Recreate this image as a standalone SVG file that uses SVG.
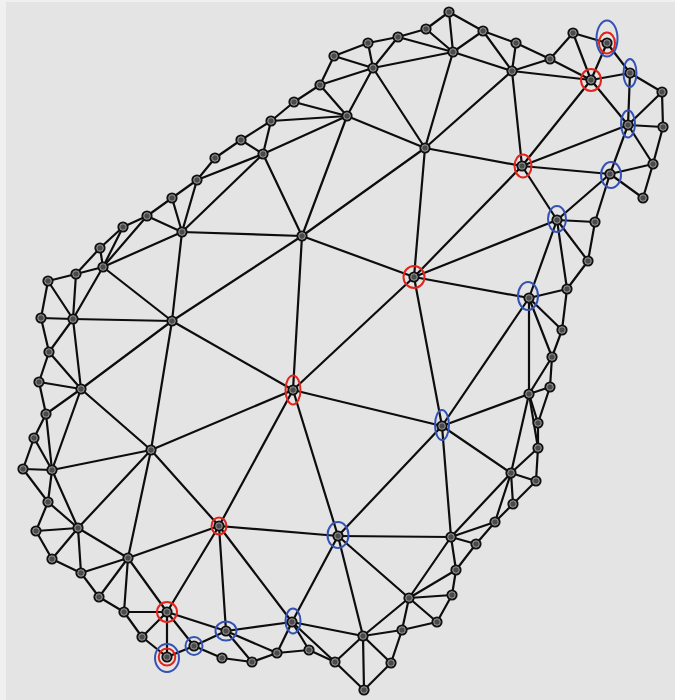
<svg xmlns="http://www.w3.org/2000/svg" xmlns:xlink="http://www.w3.org/1999/xlink" width="675" height="700" viewBox="0 0 675 700">
<style>
.e line{stroke:#0d0d0d;stroke-width:2.2;stroke-linecap:round}
.rd{fill:none;stroke:#e3241b;stroke-width:2}
.bl{fill:none;stroke:#3452b4;stroke-width:2}
</style>
<defs>
<g id="nd"><circle r="5.6" fill="#111"/><circle r="3.3" fill="#4a4a4a" stroke="#b4b4b4" stroke-width="0.8"/></g>
</defs>
<rect width="675" height="700" fill="#f0f0f0"/>
<rect x="6" y="2" width="669" height="698" fill="#e4e4e4"/>
<g class="e" id="edges">
<line x1="449" y1="12" x2="426" y2="29"/><line x1="449" y1="12" x2="483" y2="31"/><line x1="449" y1="12" x2="453" y2="52"/>
<line x1="426" y1="29" x2="398" y2="37"/><line x1="426" y1="29" x2="453" y2="52"/>
<line x1="398" y1="37" x2="368" y2="43"/><line x1="398" y1="37" x2="453" y2="52"/><line x1="398" y1="37" x2="373" y2="68"/>
<line x1="368" y1="43" x2="334" y2="56"/><line x1="368" y1="43" x2="373" y2="68"/>
<line x1="334" y1="56" x2="373" y2="68"/><line x1="334" y1="56" x2="320" y2="85"/>
<line x1="373" y1="68" x2="320" y2="85"/><line x1="373" y1="68" x2="347" y2="116"/><line x1="373" y1="68" x2="425" y2="148"/><line x1="373" y1="68" x2="453" y2="52"/>
<line x1="320" y1="85" x2="294" y2="102"/><line x1="320" y1="85" x2="347" y2="116"/>
<line x1="294" y1="102" x2="347" y2="116"/><line x1="294" y1="102" x2="271" y2="121"/>
<line x1="347" y1="116" x2="271" y2="121"/><line x1="347" y1="116" x2="263" y2="154"/><line x1="347" y1="116" x2="425" y2="148"/><line x1="347" y1="116" x2="302" y2="236"/>
<line x1="271" y1="121" x2="241" y2="140"/><line x1="271" y1="121" x2="263" y2="154"/>
<line x1="241" y1="140" x2="263" y2="154"/><line x1="241" y1="140" x2="215" y2="158"/>
<line x1="263" y1="154" x2="197" y2="180"/><line x1="263" y1="154" x2="182" y2="232"/><line x1="263" y1="154" x2="302" y2="236"/>
<line x1="425" y1="148" x2="302" y2="236"/><line x1="425" y1="148" x2="453" y2="52"/><line x1="425" y1="148" x2="512" y2="71"/><line x1="425" y1="148" x2="522" y2="166"/><line x1="425" y1="148" x2="414" y2="277"/>
<line x1="215" y1="158" x2="197" y2="180"/>
<line x1="197" y1="180" x2="172" y2="198"/><line x1="197" y1="180" x2="182" y2="232"/>
<line x1="172" y1="198" x2="147" y2="216"/><line x1="172" y1="198" x2="182" y2="232"/>
<line x1="147" y1="216" x2="123" y2="227"/><line x1="147" y1="216" x2="182" y2="232"/><line x1="147" y1="216" x2="103" y2="267"/>
<line x1="123" y1="227" x2="100" y2="248"/><line x1="123" y1="227" x2="103" y2="267"/>
<line x1="182" y1="232" x2="302" y2="236"/><line x1="182" y1="232" x2="103" y2="267"/><line x1="182" y1="232" x2="172" y2="321"/>
<line x1="302" y1="236" x2="172" y2="321"/><line x1="302" y1="236" x2="293" y2="390"/><line x1="302" y1="236" x2="414" y2="277"/>
<line x1="483" y1="31" x2="516" y2="43"/><line x1="483" y1="31" x2="453" y2="52"/><line x1="483" y1="31" x2="512" y2="71"/>
<line x1="516" y1="43" x2="512" y2="71"/><line x1="516" y1="43" x2="550" y2="59"/>
<line x1="453" y1="52" x2="512" y2="71"/>
<line x1="512" y1="71" x2="550" y2="59"/><line x1="512" y1="71" x2="591" y2="80"/><line x1="512" y1="71" x2="522" y2="166"/>
<line x1="550" y1="59" x2="573" y2="33"/><line x1="550" y1="59" x2="591" y2="80"/>
<line x1="573" y1="33" x2="607" y2="43"/><line x1="573" y1="33" x2="591" y2="80"/>
<line x1="607" y1="43" x2="591" y2="80"/><line x1="607" y1="43" x2="630" y2="73"/>
<line x1="591" y1="80" x2="630" y2="73"/><line x1="591" y1="80" x2="628" y2="125"/><line x1="591" y1="80" x2="522" y2="166"/>
<line x1="630" y1="73" x2="662" y2="92"/><line x1="630" y1="73" x2="628" y2="125"/>
<line x1="662" y1="92" x2="628" y2="125"/><line x1="662" y1="92" x2="663" y2="127"/>
<line x1="628" y1="125" x2="663" y2="127"/><line x1="628" y1="125" x2="653" y2="164"/><line x1="628" y1="125" x2="610" y2="174"/><line x1="628" y1="125" x2="522" y2="166"/>
<line x1="663" y1="127" x2="653" y2="164"/>
<line x1="653" y1="164" x2="610" y2="174"/><line x1="653" y1="164" x2="643" y2="198"/>
<line x1="610" y1="174" x2="643" y2="198"/><line x1="610" y1="174" x2="522" y2="166"/><line x1="610" y1="174" x2="557" y2="220"/><line x1="610" y1="174" x2="595" y2="222"/>
<line x1="522" y1="166" x2="557" y2="220"/><line x1="522" y1="166" x2="414" y2="277"/>
<line x1="557" y1="220" x2="595" y2="222"/><line x1="557" y1="220" x2="588" y2="261"/><line x1="557" y1="220" x2="414" y2="277"/><line x1="557" y1="220" x2="529" y2="298"/><line x1="557" y1="220" x2="567" y2="289"/>
<line x1="595" y1="222" x2="588" y2="261"/>
<line x1="588" y1="261" x2="567" y2="289"/>
<line x1="414" y1="277" x2="529" y2="298"/><line x1="414" y1="277" x2="442" y2="426"/><line x1="414" y1="277" x2="293" y2="390"/>
<line x1="529" y1="298" x2="567" y2="289"/><line x1="529" y1="298" x2="562" y2="330"/><line x1="529" y1="298" x2="552" y2="357"/><line x1="529" y1="298" x2="529" y2="394"/><line x1="529" y1="298" x2="442" y2="426"/>
<line x1="567" y1="289" x2="562" y2="330"/>
<line x1="562" y1="330" x2="552" y2="357"/>
<line x1="552" y1="357" x2="550" y2="387"/><line x1="552" y1="357" x2="529" y2="394"/>
<line x1="550" y1="387" x2="529" y2="394"/><line x1="550" y1="387" x2="538" y2="423"/>
<line x1="529" y1="394" x2="538" y2="423"/><line x1="529" y1="394" x2="538" y2="448"/><line x1="529" y1="394" x2="442" y2="426"/><line x1="529" y1="394" x2="511" y2="473"/>
<line x1="538" y1="423" x2="538" y2="448"/>
<line x1="538" y1="448" x2="511" y2="473"/><line x1="538" y1="448" x2="536" y2="481"/>
<line x1="442" y1="426" x2="293" y2="390"/><line x1="442" y1="426" x2="511" y2="473"/><line x1="442" y1="426" x2="451" y2="537"/><line x1="442" y1="426" x2="338" y2="536"/>
<line x1="293" y1="390" x2="172" y2="321"/><line x1="293" y1="390" x2="151" y2="450"/><line x1="293" y1="390" x2="219" y2="526"/><line x1="293" y1="390" x2="338" y2="536"/>
<line x1="511" y1="473" x2="536" y2="481"/><line x1="511" y1="473" x2="513" y2="504"/><line x1="511" y1="473" x2="495" y2="522"/><line x1="511" y1="473" x2="451" y2="537"/>
<line x1="536" y1="481" x2="513" y2="504"/>
<line x1="513" y1="504" x2="495" y2="522"/>
<line x1="495" y1="522" x2="451" y2="537"/><line x1="495" y1="522" x2="476" y2="544"/>
<line x1="451" y1="537" x2="476" y2="544"/><line x1="451" y1="537" x2="456" y2="570"/><line x1="451" y1="537" x2="338" y2="536"/><line x1="451" y1="537" x2="409" y2="598"/>
<line x1="476" y1="544" x2="456" y2="570"/>
<line x1="456" y1="570" x2="452" y2="595"/><line x1="456" y1="570" x2="409" y2="598"/>
<line x1="452" y1="595" x2="409" y2="598"/><line x1="452" y1="595" x2="437" y2="622"/>
<line x1="338" y1="536" x2="219" y2="526"/><line x1="338" y1="536" x2="292" y2="622"/><line x1="338" y1="536" x2="363" y2="636"/><line x1="338" y1="536" x2="409" y2="598"/>
<line x1="219" y1="526" x2="292" y2="622"/><line x1="219" y1="526" x2="167" y2="612"/><line x1="219" y1="526" x2="151" y2="450"/><line x1="219" y1="526" x2="128" y2="558"/><line x1="219" y1="526" x2="226" y2="631"/>
<line x1="409" y1="598" x2="437" y2="622"/><line x1="409" y1="598" x2="402" y2="630"/><line x1="409" y1="598" x2="363" y2="636"/>
<line x1="437" y1="622" x2="402" y2="630"/>
<line x1="402" y1="630" x2="363" y2="636"/><line x1="402" y1="630" x2="391" y2="663"/>
<line x1="363" y1="636" x2="391" y2="663"/><line x1="363" y1="636" x2="364" y2="690"/><line x1="363" y1="636" x2="335" y2="662"/><line x1="363" y1="636" x2="292" y2="622"/>
<line x1="391" y1="663" x2="364" y2="690"/>
<line x1="364" y1="690" x2="335" y2="662"/>
<line x1="335" y1="662" x2="309" y2="650"/><line x1="335" y1="662" x2="292" y2="622"/>
<line x1="309" y1="650" x2="292" y2="622"/><line x1="309" y1="650" x2="277" y2="653"/>
<line x1="292" y1="622" x2="277" y2="653"/><line x1="292" y1="622" x2="226" y2="631"/>
<line x1="277" y1="653" x2="252" y2="662"/><line x1="277" y1="653" x2="226" y2="631"/>
<line x1="252" y1="662" x2="226" y2="631"/><line x1="252" y1="662" x2="222" y2="658"/>
<line x1="226" y1="631" x2="194" y2="646"/><line x1="226" y1="631" x2="167" y2="612"/>
<line x1="222" y1="658" x2="194" y2="646"/>
<line x1="194" y1="646" x2="167" y2="657"/><line x1="194" y1="646" x2="167" y2="612"/>
<line x1="167" y1="657" x2="167" y2="612"/><line x1="167" y1="657" x2="142" y2="637"/>
<line x1="167" y1="612" x2="142" y2="637"/><line x1="167" y1="612" x2="124" y2="612"/><line x1="167" y1="612" x2="128" y2="558"/>
<line x1="142" y1="637" x2="124" y2="612"/>
<line x1="124" y1="612" x2="99" y2="597"/><line x1="124" y1="612" x2="128" y2="558"/>
<line x1="99" y1="597" x2="128" y2="558"/><line x1="99" y1="597" x2="81" y2="573"/>
<line x1="128" y1="558" x2="81" y2="573"/><line x1="128" y1="558" x2="78" y2="528"/><line x1="128" y1="558" x2="151" y2="450"/>
<line x1="81" y1="573" x2="52" y2="559"/><line x1="81" y1="573" x2="78" y2="528"/>
<line x1="52" y1="559" x2="78" y2="528"/><line x1="52" y1="559" x2="36" y2="531"/>
<line x1="78" y1="528" x2="36" y2="531"/><line x1="78" y1="528" x2="48" y2="502"/><line x1="78" y1="528" x2="52" y2="470"/><line x1="78" y1="528" x2="151" y2="450"/>
<line x1="36" y1="531" x2="48" y2="502"/>
<line x1="48" y1="502" x2="52" y2="470"/><line x1="48" y1="502" x2="23" y2="469"/>
<line x1="52" y1="470" x2="23" y2="469"/><line x1="52" y1="470" x2="151" y2="450"/><line x1="52" y1="470" x2="34" y2="438"/><line x1="52" y1="470" x2="46" y2="414"/><line x1="52" y1="470" x2="81" y2="389"/>
<line x1="23" y1="469" x2="34" y2="438"/>
<line x1="151" y1="450" x2="81" y2="389"/><line x1="151" y1="450" x2="172" y2="321"/>
<line x1="34" y1="438" x2="46" y2="414"/>
<line x1="46" y1="414" x2="81" y2="389"/><line x1="46" y1="414" x2="39" y2="382"/>
<line x1="81" y1="389" x2="39" y2="382"/><line x1="81" y1="389" x2="49" y2="352"/><line x1="81" y1="389" x2="73" y2="319"/><line x1="81" y1="389" x2="172" y2="321"/>
<line x1="39" y1="382" x2="49" y2="352"/>
<line x1="49" y1="352" x2="41" y2="318"/><line x1="49" y1="352" x2="73" y2="319"/>
<line x1="41" y1="318" x2="73" y2="319"/><line x1="41" y1="318" x2="48" y2="281"/>
<line x1="73" y1="319" x2="172" y2="321"/><line x1="73" y1="319" x2="48" y2="281"/><line x1="73" y1="319" x2="76" y2="274"/><line x1="73" y1="319" x2="103" y2="267"/>
<line x1="172" y1="321" x2="103" y2="267"/>
<line x1="48" y1="281" x2="76" y2="274"/>
<line x1="76" y1="274" x2="103" y2="267"/><line x1="76" y1="274" x2="100" y2="248"/>
<line x1="103" y1="267" x2="100" y2="248"/>
</g>
<g id="nodes">
<g id="n1"><use xlink:href="#nd" x="449" y="12"/></g>
<g id="n2"><use xlink:href="#nd" x="426" y="29"/></g>
<g id="n3"><use xlink:href="#nd" x="398" y="37"/></g>
<g id="n4"><use xlink:href="#nd" x="368" y="43"/></g>
<g id="n5"><use xlink:href="#nd" x="334" y="56"/></g>
<g id="n6"><use xlink:href="#nd" x="373" y="68"/></g>
<g id="n7"><use xlink:href="#nd" x="320" y="85"/></g>
<g id="n8"><use xlink:href="#nd" x="294" y="102"/></g>
<g id="n9"><use xlink:href="#nd" x="347" y="116"/></g>
<g id="n10"><use xlink:href="#nd" x="271" y="121"/></g>
<g id="n11"><use xlink:href="#nd" x="241" y="140"/></g>
<g id="n12"><use xlink:href="#nd" x="263" y="154"/></g>
<g id="n13"><use xlink:href="#nd" x="425" y="148"/></g>
<g id="n14"><use xlink:href="#nd" x="215" y="158"/></g>
<g id="n15"><use xlink:href="#nd" x="197" y="180"/></g>
<g id="n16"><use xlink:href="#nd" x="172" y="198"/></g>
<g id="n17"><use xlink:href="#nd" x="147" y="216"/></g>
<g id="n18"><use xlink:href="#nd" x="123" y="227"/></g>
<g id="n19"><use xlink:href="#nd" x="182" y="232"/></g>
<g id="n20"><use xlink:href="#nd" x="302" y="236"/></g>
<g id="n21"><use xlink:href="#nd" x="483" y="31"/></g>
<g id="n22"><use xlink:href="#nd" x="516" y="43"/></g>
<g id="n23"><use xlink:href="#nd" x="453" y="52"/></g>
<g id="n24"><use xlink:href="#nd" x="512" y="71"/></g>
<g id="n25"><use xlink:href="#nd" x="550" y="59"/></g>
<g id="n26"><use xlink:href="#nd" x="573" y="33"/></g>
<g id="n27"><use xlink:href="#nd" x="607" y="43"/><ellipse class="rd" cx="607" cy="43" rx="8" ry="10.5"/><ellipse class="bl" cx="607" cy="38.5" rx="10.5" ry="18"/></g>
<g id="n28"><use xlink:href="#nd" x="591" y="80"/><ellipse class="rd" cx="591" cy="80" rx="10" ry="11"/></g>
<g id="n29"><use xlink:href="#nd" x="630" y="73"/><ellipse class="bl" cx="630" cy="73" rx="6.5" ry="14"/></g>
<g id="n30"><use xlink:href="#nd" x="662" y="92"/></g>
<g id="n31"><use xlink:href="#nd" x="628" y="125"/><ellipse class="bl" cx="628" cy="124" rx="7" ry="13.5"/></g>
<g id="n32"><use xlink:href="#nd" x="663" y="127"/></g>
<g id="n33"><use xlink:href="#nd" x="653" y="164"/></g>
<g id="n34"><use xlink:href="#nd" x="610" y="174"/><ellipse class="bl" cx="611" cy="175" rx="10" ry="13"/></g>
<g id="n35"><use xlink:href="#nd" x="643" y="198"/></g>
<g id="n36"><use xlink:href="#nd" x="522" y="166"/><ellipse class="rd" cx="523" cy="166" rx="8.5" ry="11.5"/></g>
<g id="n37"><use xlink:href="#nd" x="557" y="220"/><ellipse class="bl" cx="557" cy="219" rx="9" ry="13"/></g>
<g id="n38"><use xlink:href="#nd" x="595" y="222"/></g>
<g id="n39"><use xlink:href="#nd" x="588" y="261"/></g>
<g id="n40"><use xlink:href="#nd" x="414" y="277"/><ellipse class="rd" cx="414" cy="277" rx="10.5" ry="11"/></g>
<g id="n41"><use xlink:href="#nd" x="529" y="298"/><ellipse class="bl" cx="528" cy="296" rx="10" ry="14"/></g>
<g id="n42"><use xlink:href="#nd" x="567" y="289"/></g>
<g id="n43"><use xlink:href="#nd" x="562" y="330"/></g>
<g id="n44"><use xlink:href="#nd" x="552" y="357"/></g>
<g id="n45"><use xlink:href="#nd" x="550" y="387"/></g>
<g id="n46"><use xlink:href="#nd" x="529" y="394"/></g>
<g id="n47"><use xlink:href="#nd" x="538" y="423"/></g>
<g id="n48"><use xlink:href="#nd" x="538" y="448"/></g>
<g id="n49"><use xlink:href="#nd" x="442" y="426"/><ellipse class="bl" cx="442" cy="425" rx="7" ry="15"/></g>
<g id="n50"><use xlink:href="#nd" x="293" y="390"/><ellipse class="rd" cx="293" cy="390" rx="7.5" ry="14.5"/></g>
<g id="n51"><use xlink:href="#nd" x="511" y="473"/></g>
<g id="n52"><use xlink:href="#nd" x="536" y="481"/></g>
<g id="n53"><use xlink:href="#nd" x="513" y="504"/></g>
<g id="n54"><use xlink:href="#nd" x="495" y="522"/></g>
<g id="n55"><use xlink:href="#nd" x="451" y="537"/></g>
<g id="n56"><use xlink:href="#nd" x="476" y="544"/></g>
<g id="n57"><use xlink:href="#nd" x="456" y="570"/></g>
<g id="n58"><use xlink:href="#nd" x="452" y="595"/></g>
<g id="n59"><use xlink:href="#nd" x="338" y="536"/><ellipse class="bl" cx="338" cy="535" rx="10.5" ry="13"/></g>
<g id="n60"><use xlink:href="#nd" x="219" y="526"/><ellipse class="rd" cx="219" cy="526" rx="7.5" ry="8.5"/></g>
<g id="n61"><use xlink:href="#nd" x="409" y="598"/></g>
<g id="n62"><use xlink:href="#nd" x="437" y="622"/></g>
<g id="n63"><use xlink:href="#nd" x="402" y="630"/></g>
<g id="n64"><use xlink:href="#nd" x="363" y="636"/></g>
<g id="n65"><use xlink:href="#nd" x="391" y="663"/></g>
<g id="n66"><use xlink:href="#nd" x="364" y="690"/></g>
<g id="n67"><use xlink:href="#nd" x="335" y="662"/></g>
<g id="n68"><use xlink:href="#nd" x="309" y="650"/></g>
<g id="n69"><use xlink:href="#nd" x="292" y="622"/><ellipse class="bl" cx="293" cy="621" rx="7.5" ry="12.5"/></g>
<g id="n70"><use xlink:href="#nd" x="277" y="653"/></g>
<g id="n71"><use xlink:href="#nd" x="252" y="662"/></g>
<g id="n72"><use xlink:href="#nd" x="226" y="631"/><ellipse class="bl" cx="226" cy="631" rx="10.5" ry="9.5"/></g>
<g id="n73"><use xlink:href="#nd" x="222" y="658"/></g>
<g id="n74"><use xlink:href="#nd" x="194" y="646"/><ellipse class="bl" cx="194" cy="646" rx="8.5" ry="9"/></g>
<g id="n75"><use xlink:href="#nd" x="167" y="657"/><ellipse class="rd" cx="167" cy="657" rx="8.3" ry="8.5"/><ellipse class="bl" cx="167" cy="658" rx="12" ry="14"/></g>
<g id="n76"><use xlink:href="#nd" x="167" y="612"/><ellipse class="rd" cx="167" cy="612" rx="10" ry="10"/></g>
<g id="n77"><use xlink:href="#nd" x="142" y="637"/></g>
<g id="n78"><use xlink:href="#nd" x="124" y="612"/></g>
<g id="n79"><use xlink:href="#nd" x="99" y="597"/></g>
<g id="n80"><use xlink:href="#nd" x="128" y="558"/></g>
<g id="n81"><use xlink:href="#nd" x="81" y="573"/></g>
<g id="n82"><use xlink:href="#nd" x="52" y="559"/></g>
<g id="n83"><use xlink:href="#nd" x="78" y="528"/></g>
<g id="n84"><use xlink:href="#nd" x="36" y="531"/></g>
<g id="n85"><use xlink:href="#nd" x="48" y="502"/></g>
<g id="n86"><use xlink:href="#nd" x="52" y="470"/></g>
<g id="n87"><use xlink:href="#nd" x="23" y="469"/></g>
<g id="n88"><use xlink:href="#nd" x="151" y="450"/></g>
<g id="n89"><use xlink:href="#nd" x="34" y="438"/></g>
<g id="n90"><use xlink:href="#nd" x="46" y="414"/></g>
<g id="n91"><use xlink:href="#nd" x="81" y="389"/></g>
<g id="n92"><use xlink:href="#nd" x="39" y="382"/></g>
<g id="n93"><use xlink:href="#nd" x="49" y="352"/></g>
<g id="n94"><use xlink:href="#nd" x="41" y="318"/></g>
<g id="n95"><use xlink:href="#nd" x="73" y="319"/></g>
<g id="n96"><use xlink:href="#nd" x="172" y="321"/></g>
<g id="n97"><use xlink:href="#nd" x="48" y="281"/></g>
<g id="n98"><use xlink:href="#nd" x="76" y="274"/></g>
<g id="n99"><use xlink:href="#nd" x="103" y="267"/></g>
<g id="n100"><use xlink:href="#nd" x="100" y="248"/></g>
</g>
</svg>
